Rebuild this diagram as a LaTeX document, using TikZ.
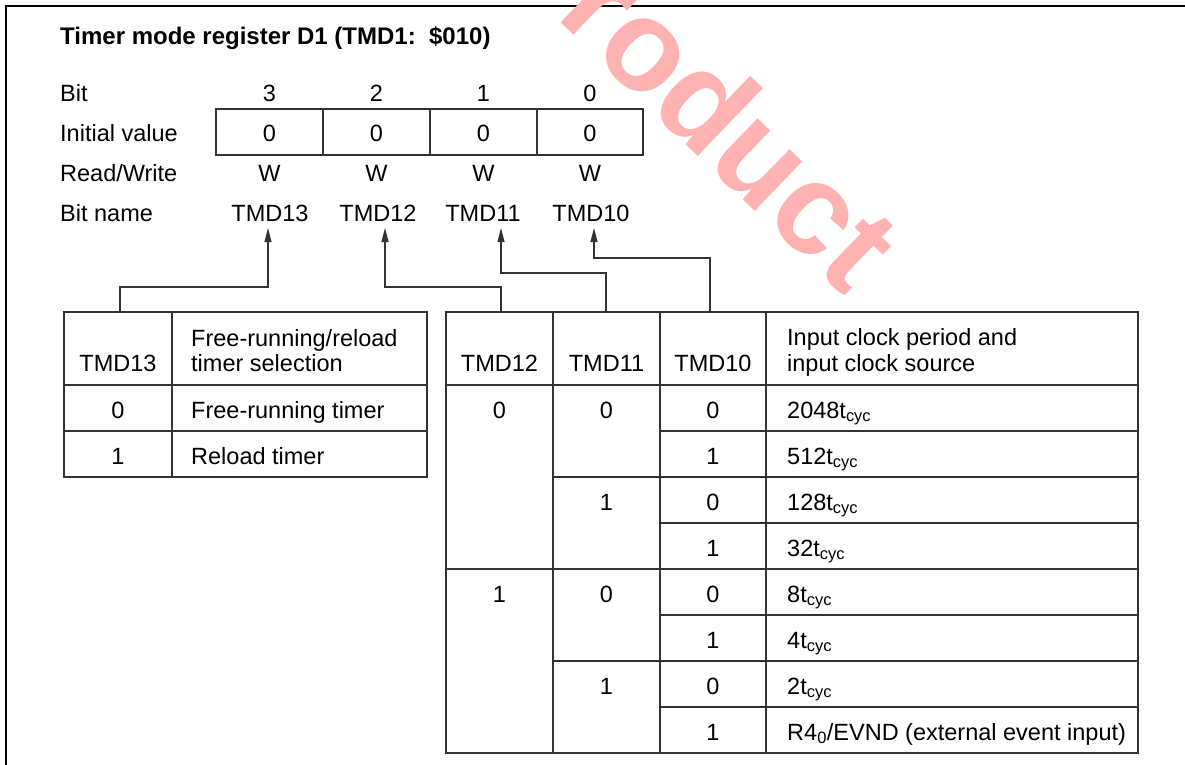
\documentclass[tikz,border=0pt]{standalone}
\usepackage{fontspec}
\setmainfont{Liberation Sans}
\usetikzlibrary{arrows.meta}
\begin{document}
\begin{tikzpicture}[x=1pt,y=-1pt,
  txt/.style={inner sep=0pt, anchor=base, font=\fontsize{23.5}{26}\selectfont},
  lt/.style={txt, anchor=base west},
  grid/.style={line width=1.2pt, draw=black!80},
  frame/.style={line width=2pt, draw=black},
  conn/.style={line width=1.1pt, draw=black!80, -{Triangle[length=14pt,width=7pt]}},
  wmark/.style={inner sep=0pt, text=red!30, font=\bfseries\fontsize{130}{130}\selectfont}]
\useasboundingbox (0,0) rectangle (1185,765);
\fill[white] (0,0) rectangle (1185,765);
% frame
\draw[frame] (6,765) -- (6,6) -- (1185,6);
% title and labels
\node[lt, font=\bfseries\fontsize{24}{26}\selectfont] (title) at (60,45) {Timer mode register D1 (TMD1:\ \ \$010)};
\node[lt] (lbit) at (60,102) {Bit};
\node[lt] (linit) at (60,141) {Initial value};
\node[lt] (lrw) at (60,181) {Read/Write};
\node[lt] (lname) at (60,221) {Bit name};
% register box
\draw[grid] (216,109) rectangle (643,155);
\foreach \x in {323,430,537} \draw[grid] (\x,109) -- (\x,155);
\foreach \x/\b in {269.5/3,376.5/2,483.5/1,590/0}{
  \node[txt] (b\b) at (\x,102) {\b};
  \node[txt] (v\b) at (\x,141) {0};
  \node[txt] (w\b) at (\x,181) {W};
}
\node[txt] (n13) at (270,221) {TMD13};
\node[txt] (n12) at (378,221) {TMD12};
\node[txt] (n11) at (483,221) {TMD11};
\node[txt] (n10) at (591,221) {TMD10};
% connector start points on the tables
\coordinate (t13) at (120,312);
\coordinate (t12) at (501,312);
\coordinate (t11) at (606,312);
\coordinate (t10) at (710,312);
\draw[conn] (t13) -- (120,287) -- (268,287) -- ([xshift=-2pt,yshift=-7pt]n13.base);
\draw[conn] (t12) -- (501,287) -- (385,287) -- ([xshift=7pt,yshift=-7pt]n12.base);
\draw[conn] (t11) -- (606,273) -- (501,273) -- ([xshift=18pt,yshift=-7pt]n11.base);
\draw[conn] (t10) -- (710,258) -- (594,258) -- ([xshift=3pt,yshift=-7pt]n10.base);
% left table
\draw[grid] (64,312) rectangle (427,477);
\draw[grid] (172,312) -- (172,477);
\draw[grid] (64,385) -- (427,385);
\draw[grid] (64,431) -- (427,431);
\node[txt] (l13) at (118,371) {TMD13};
\node[lt] (lh1) at (191,346) {Free-running/reload};
\node[lt] (lh2) at (191,371) {timer selection};
\node[txt] (l0) at (118,418) {0};
\node[lt] (lf) at (191,418) {Free-running timer};
\node[txt] (l1) at (118,464) {1};
\node[lt] (lr) at (191,464) {Reload timer};
% right table
\draw[grid] (446,312) rectangle (1138,753);
\foreach \x in {553,660,766} \draw[grid] (\x,312) -- (\x,753);
\foreach \y in {385,569} \draw[grid] (446,\y) -- (1138,\y);
\foreach \y in {477,661} \draw[grid] (553,\y) -- (1138,\y);
\foreach \y in {431,523,615,707} \draw[grid] (660,\y) -- (1138,\y);
\node[txt] (r12) at (499.5,371) {TMD12};
\node[txt] (r11) at (606.5,371) {TMD11};
\node[txt] (r10) at (713,371) {TMD10};
\node[lt] (rh1) at (787,345) {Input clock period and};
\node[lt] (rh2) at (787,371) {input clock source};
\node[txt] (a0) at (499.5,418) {0};
\node[txt] (a1) at (499.5,602) {1};
\node[txt] (c0) at (606.5,418) {0};
\node[txt] (c1) at (606.5,510) {1};
\node[txt] (c2) at (606.5,602) {0};
\node[txt] (c3) at (606.5,694) {1};
\foreach \i/\y/\v in {1/418/0,2/464/1,3/510/0,4/556/1,5/602/0,6/648/1,7/694/0,8/740/1}
  \node[txt] (d\i) at (713,\y) {\v};
\node[lt] (s1) at (787,418) {2048t\textsubscript{cyc}};
\node[lt] (s2) at (787,464) {512t\textsubscript{cyc}};
\node[lt] (s3) at (787,510) {128t\textsubscript{cyc}};
\node[lt] (s4) at (787,556) {32t\textsubscript{cyc}};
\node[lt] (s5) at (787,602) {8t\textsubscript{cyc}};
\node[lt] (s6) at (787,648) {4t\textsubscript{cyc}};
\node[lt] (s7) at (787,694) {2t\textsubscript{cyc}};
\node[lt] (s8) at (787,740) {R4\textsubscript{0}/EVND (external event input)};
% watermark
\begin{scope}
\clip (0,0) rectangle (1185,765);
\node[wmark, rotate=-44] (wm) at (732,124) {roduct};
\end{scope}
\end{tikzpicture}
\end{document}
